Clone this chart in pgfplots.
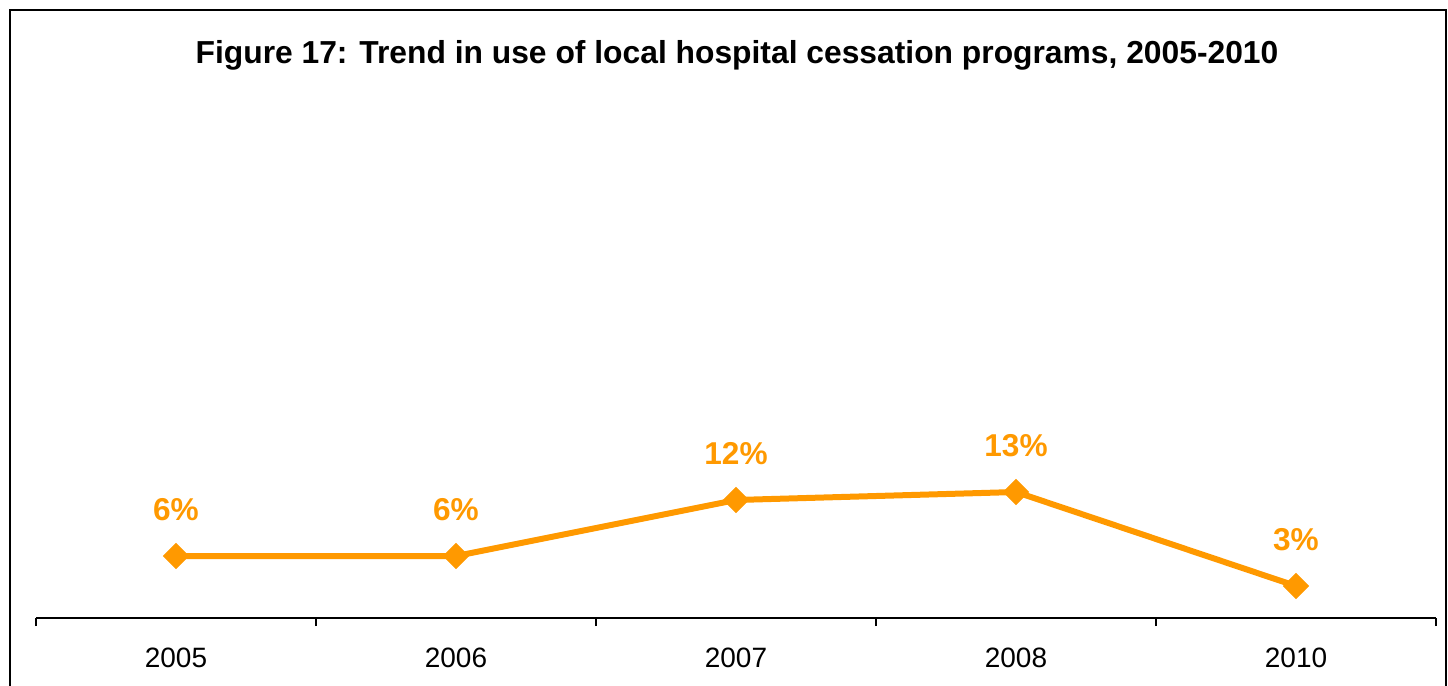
\documentclass[border=0pt]{standalone}
\usepackage{pgfplots}
\pgfplotsset{compat=1.18}
\usepackage{fontspec}
\setmainfont{Liberation Sans}
\definecolor{lineorange}{HTML}{FF9900}
\begin{document}
\begin{tikzpicture}
\path[use as bounding box] (0,0) rectangle (724bp,-343bp);
\draw[line width=1.4bp] (5bp,-360bp) -- (5bp,-5bp) -- (723bp,-5bp) -- (723bp,-360bp);
\node[font=\bfseries\fontsize{15.9bp}{19bp}\selectfont] at (368.5bp,-27.5bp) {Figure 17: Trend in use of local hospital cessation programs, 2005-2010};
\begin{axis}[
  at={(18bp,-309bp)}, anchor=south west,
  scale only axis, width=700bp, height=250bp,
  xmin=0.5, xmax=5.5, ymin=0, ymax=50,
  axis x line*=bottom, axis y line=none,
  xtick={1,2,3,4,5},
  xticklabels={2005,2006,2007,2008,2010},
  major tick length=0pt,
  minor xtick={0.5,1.5,2.5,3.5,4.5,5.5},
  minor tick length=4bp,
  tick align=outside,
  x axis line style={line width=1bp,-},
  every tick/.style={black, line width=1bp},
  xticklabel style={font=\fontsize{14bp}{17bp}\selectfont, yshift=-11.5bp},
  clip=false,
]
\addplot[color=lineorange, line width=3bp, mark=square*,
  mark size=4.5bp, mark options={rotate=45, line width=0.3bp},
  nodes near coords, point meta=explicit symbolic,
  nodes near coords style={font=\bfseries\fontsize{15.8bp}{19bp}\selectfont, text=lineorange, anchor=center, yshift=23bp}]
  coordinates {(1,6.2)[6\%] (2,6.2)[6\%] (3,11.8)[12\%] (4,12.6)[13\%] (5,3.2)[3\%]};
\end{axis}
\end{tikzpicture}
\end{document}
